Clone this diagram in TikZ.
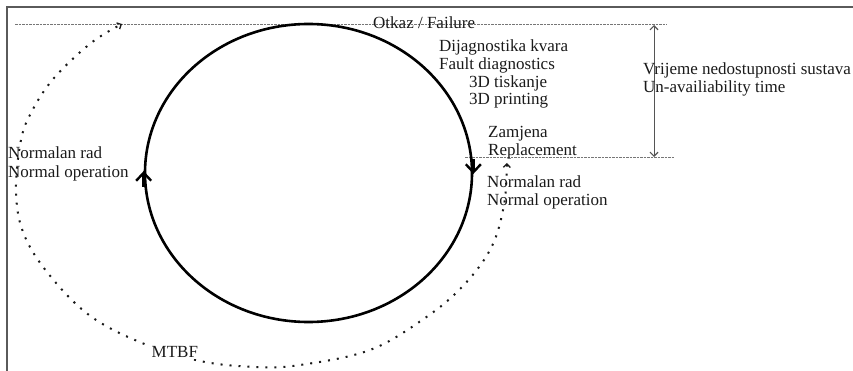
\documentclass[tikz,border=0pt]{standalone}
\usepackage{fontspec}
\setmainfont{Liberation Serif}
\usetikzlibrary{arrows.meta,shapes.geometric}
\definecolor{framegray}{HTML}{5A5A5A}
\definecolor{guidegray}{HTML}{767676}
\definecolor{dimgray}{HTML}{555555}
\definecolor{inkc}{HTML}{1A1A1A}
\begin{document}
\begin{tikzpicture}[x=1pt,y=-1pt,
  lbl/.style={anchor=base west,inner sep=0pt,text=inkc,font=\fontsize{17}{18.5}\selectfont},
  cycstyle/.style={draw=black,ellipse,line width=2.6pt,minimum width=327pt,minimum height=298pt,inner sep=0pt},
  cycarrow/.style={line width=2.6pt,-{Straight Barb[length=8pt,width=15pt,line width=2.4pt]}},
  guide/.style={draw=guidegray,line width=0.9pt,dash pattern=on 2.5pt off 1pt},
  dimarrow/.style={draw=dimgray,line width=0.9pt,{Straight Barb[length=4pt,width=8pt,line width=1.2pt]}-{Straight Barb[length=4pt,width=8pt,line width=1.2pt]}},
  mtbfline/.style={draw=inkc,line width=2pt,dash pattern=on 2pt off 7pt,{Straight Barb[length=3.5pt,width=7pt,line width=1.3pt]}-{Straight Barb[length=3.5pt,width=7pt,line width=1.3pt]}},
  framestyle/.style={draw=framegray,line width=1.5pt}]
\useasboundingbox (0,0) rectangle (853,371);
% frame (left and top edges)
\draw[framestyle] (7,371) -- (7,7) -- (853,7);
% guide lines
\coordinate (failL) at (15,24);
\coordinate (failR) at (667,24);
\coordinate (restL) at (465,157);
\coordinate (restR) at (675,157);
\draw[guide] (failL) -- (failR);
\draw[guide] (restL) -- (restR);
% un-availability dimension arrow
\coordinate (dimT) at (654,25);
\coordinate (dimB) at (654,157);
\draw[dimarrow] (dimT) -- (dimB);
% main cycle
\node[cycstyle] (cyc) at (308.5,173) {};
\draw[cycarrow] ([yshift=-14pt]cyc.west) -- ([yshift=2pt]cyc.west);
\draw[cycarrow] ([yshift=14pt]cyc.east) -- ([yshift=-1pt]cyc.east);
% MTBF dotted curve
\coordinate (mtbfS) at (507,163);
\coordinate (mtbfE) at (122,24);
\draw[mtbfline] plot[smooth,tension=0.6] coordinates {(mtbfS) (503,210) (490,250) (462,287) (425,318) (370,350) (300,365) (255,367) (200,361) (142,343) (89,315) (47,272) (23,232) (16,190) (21,140) (32,111) (54,78) (91,43) (mtbfE)};
% labels
\node[lbl] (otkaz) at (373,28.5) {Otkaz / Failure};
\node[lbl] (dijag) at (439,51.5) {Dijagnostika kvara};
\node[lbl] (fault) at (439,70) {Fault diagnostics};
\node[lbl] (tisk) at (469,87.5) {3D tiskanje};
\node[lbl] (print) at (469,104.5) {3D printing};
\node[lbl] (zamj) at (488,137.5) {Zamjena};
\node[lbl] (repl) at (488,156) {Replacement};
\node[lbl] (nrRa) at (487,188) {Normalan rad};
\node[lbl] (nrRb) at (487,205.5) {Normal operation};
\node[lbl] (vrij) at (643,75) {Vrijeme nedostupnosti sustava};
\node[lbl] (unav) at (643,92.5) {Un-availiability time};
\node[lbl] (nrLa) at (8,159) {Normalan rad};
\node[lbl] (nrLb) at (8,177.5) {Normal operation};
\node[lbl,fill=white,inner sep=1.5pt] (mtbf) at (150,357) {MTBF};
\end{tikzpicture}
\end{document}
